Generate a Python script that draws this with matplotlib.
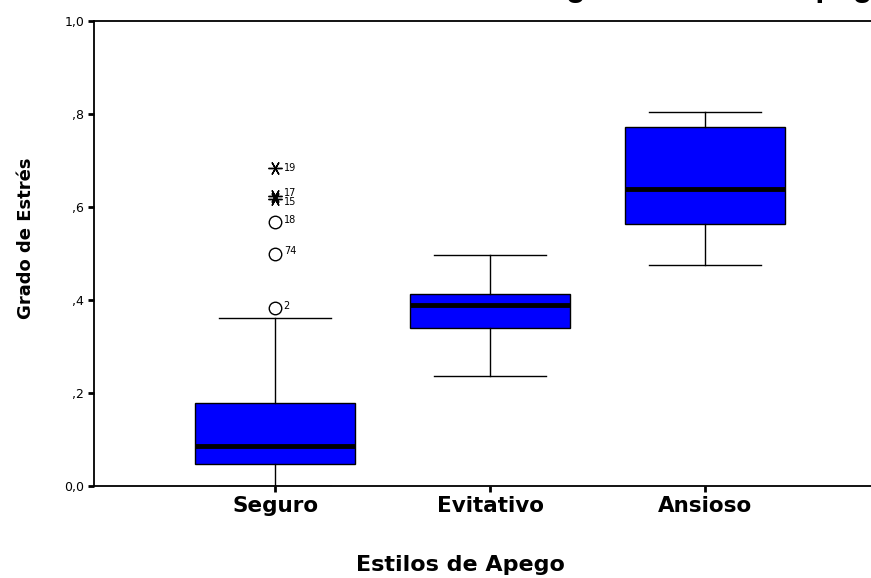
'''boxplot: grado de estres por estilo de apego'''

import numpy as np
from matplotlib import pyplot as plt

# data
groups = ['Seguro', 'Evitativo', 'Ansioso']
q1 = [0.047, 0.340, 0.563]
med = [0.085, 0.390, 0.639]
q3 = [0.178, 0.412, 0.772]
whis_lo = [0.0, 0.237, 0.475]
whis_hi = [0.361, 0.497, 0.804]

# outliers of Seguro (circles) and extremes (stars)
out_vals = [0.383, 0.500, 0.568]
out_ids = ['2', '74', '18']
ext_vals = [0.684, 0.624, 0.617]
ext_ids = ['19', '17', '15']

yticks = [0.0, 0.2, 0.4, 0.6, 0.8, 1.0]
ytick_labels = ['0,0', ',2', ',4', ',6', ',8', '1,0']

plt.rcParams['font.family'] = ['DejaVu Sans']

fig = plt.figure(figsize=(8.71, 5.78), dpi=100)
ax = fig.add_axes([94 / 871, 92 / 578, 777 / 871, 465 / 578])

stats = []
for i, g in enumerate(groups):
    stats.append({'label': g, 'q1': q1[i], 'med': med[i], 'q3': q3[i],
                  'whislo': whis_lo[i], 'whishi': whis_hi[i], 'fliers': []})

ax.bxp(stats, positions=[1, 2, 3], widths=0.745, patch_artist=True,
       showfliers=False,
       boxprops=dict(facecolor='#0000ff', edgecolor='black', linewidth=1),
       medianprops=dict(color='black', linewidth=3.5, solid_capstyle='butt'),
       whiskerprops=dict(color='black', linewidth=1),
       capprops=dict(color='black', linewidth=1), capwidths=0.52)

# outliers
ax.plot([1] * len(out_vals), out_vals, linestyle='none', marker='o',
        markersize=9, markerfacecolor='white', markeredgecolor='black',
        markeredgewidth=1, zorder=5)
ax.plot([1] * len(ext_vals), ext_vals, linestyle='none', marker=(6, 2, 90),
        markersize=10, markeredgecolor='black', markeredgewidth=1, zorder=5)
for v, t in zip(out_vals, out_ids):
    ax.text(1.04, v + 0.005, t, fontsize=7, ha='left', va='center')
dy = {'19': 0.0, '17': 0.006, '15': -0.006}
for v, t in zip(ext_vals, ext_ids):
    ax.text(1.04, v + dy[t], t, fontsize=7, ha='left', va='center')

ax.set_xlim(0.158, 3.77)
ax.set_ylim(0.0, 1.0)
ax.set_yticks(yticks)
ax.set_yticklabels(ytick_labels, fontsize=9)
ax.set_xticks([1, 2, 3])
ax.set_xticklabels(groups, fontsize=15.5, fontweight='bold')
ax.tick_params(axis='both', direction='out', length=4, width=2, pad=3)
ax.tick_params(axis='x', pad=3)
ax.spines['right'].set_visible(False)
for s in ['left', 'top', 'bottom']:
    ax.spines[s].set_linewidth(1.3)

ax.set_xlabel('Estilos de Apego', fontsize=16, fontweight='bold')
ax.xaxis.set_label_coords((460 - 94) / 777, -(565 - 486) / 465)
ax.xaxis.label.set_va('center')
ax.set_ylabel('Grado de Estrés', fontsize=13, fontweight='bold')
ax.yaxis.set_label_coords(-(94 - 26) / 777, (486 - 238) / 465)
ax.yaxis.label.set_va('center')

# title is cut off at the top of the original image
fig.text(892 / 871, 1 + 4 / 578, 'Grado de Estrés según Estilos de Apego',
         fontsize=23, fontweight='bold', ha='right', va='baseline',
         family='Liberation Sans')

fig.savefig('out.png', dpi=100)
